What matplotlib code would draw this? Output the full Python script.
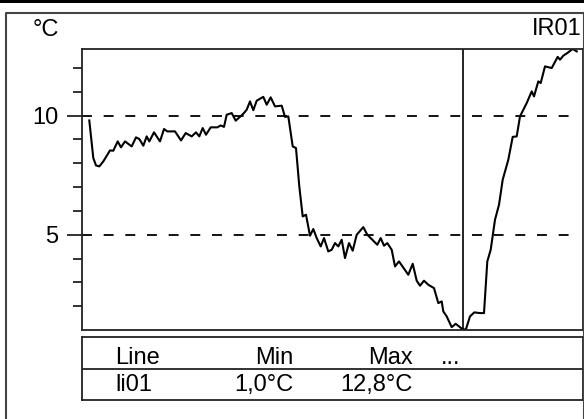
import matplotlib
matplotlib.use('Agg')
import matplotlib.pyplot as plt
from matplotlib.patches import Rectangle
from matplotlib.lines import Line2D
from matplotlib.ticker import FixedLocator

plt.rcParams['font.family'] = ['Liberation Sans', 'DejaVu Sans']

# --- Data ---
t = [7.3, 11.3, 14, 17.3, 21.3, 28, 31.3, 35.7, 39, 43, 49.7, 54, 57.3, 61.3,
     64.7, 67.3, 72, 78, 82, 85.3, 93, 99, 103.7, 109.7, 114, 117.3, 120.7,
     124, 128.7, 135.3, 138.7, 142, 144.7, 149.7, 153.7, 161.3, 164.7, 168,
     171.3, 174.7, 181.3, 184.7, 188.7, 193, 199.7, 203, 206.3, 210.7, 214,
     217.3, 220.7, 224, 228, 231.3, 234.7, 238.7, 242, 246.3, 249.7, 253,
     256.3, 259.7, 263, 267, 270.7, 274.7, 281.3, 285.3, 295.3, 298.7, 302,
     305.3, 309.7, 313, 317, 326.3, 330.7, 334.7, 338, 342, 346.3, 352,
     356.3, 359.7, 361.3, 364.7, 369.7, 373.7, 381.3, 384, 388, 392.3, 398,
     402, 405.3, 408.7, 413, 417, 420.7, 426.3, 430.7, 434.7, 438, 444.7,
     449.7, 452, 456.3, 458.7, 463, 469.7, 475.7, 478, 481.3, 485.3, 490.7,
     494.7]
temp = [9.80, 8.22, 7.91, 7.87, 8.08, 8.54, 8.53, 8.92, 8.67, 8.92, 8.71, 9.09,
        9.02, 8.74, 9.13, 8.92, 9.30, 8.92, 9.44, 9.34, 9.34, 8.96, 9.27, 9.13,
        9.30, 9.13, 9.48, 9.20, 9.51, 9.51, 9.59, 9.53, 10.04, 10.11, 9.79,
        10.08, 10.25, 10.60, 10.23, 10.63, 10.79, 10.46, 10.77, 10.39, 10.42,
        9.95, 9.97, 8.71, 8.64, 7.03, 5.77, 5.84, 4.96, 5.24, 4.86, 4.51, 4.86,
        4.30, 4.37, 4.65, 4.51, 4.79, 4.02, 4.65, 4.33, 5.00, 5.32, 5.00, 4.58,
        4.86, 4.54, 4.65, 4.37, 3.67, 3.88, 3.32, 3.78, 3.07, 2.86, 3.07, 2.90,
        2.76, 2.13, 2.20, 1.78, 1.57, 1.12, 1.26, 1.01, 1.04, 1.57, 1.74, 1.71,
        1.71, 3.88, 4.37, 5.63, 6.26, 7.31, 8.15, 9.11, 9.13, 9.97, 10.53,
        11.02, 10.81, 11.44, 11.37, 12.07, 12.00, 12.47, 12.35, 12.52, 12.63,
        12.80, 12.70]
cursor_t = 381.3
ref_levels = [5, 10]
y_min, y_max = 1.0, 12.8

table_header = ['Line', 'Min', 'Max', '...']
table_row = ['li01', '1,0°C', '12,8°C']

W, H = 584, 419
FS = 17
EDGE = '#222222'


def fx(px):
    return px / W


def fy(py):
    return 1 - py / H


fig = plt.figure(figsize=(W / 100, H / 100), dpi=100)

# top black bar + outer frame
fig.add_artist(Rectangle((0, fy(3)), 1, 3 / H, transform=fig.transFigure,
                         facecolor='black', edgecolor='none'))
fig.add_artist(Line2D([fx(6), fx(6), fx(583.5), fx(583.5)],
                      [fy(425), fy(13), fy(13), fy(425)],
                      transform=fig.transFigure, color='#444444', lw=1.5))

# --- main chart ---
ax = fig.add_axes([fx(82), fy(330), fx(583 - 82), (330 - 49) / H])
ax.plot(t, temp, color='black', lw=1.5)
for lv in ref_levels:
    ax.axhline(lv, xmin=0, xmax=0.985, color='black', lw=1.3,
               dashes=(5.5, 6.5))
ax.axvline(cursor_t, color='black', lw=1.2)
ax.set_xlim(0, 501)
ax.set_ylim(y_min, y_max)
ax.set_xticks([])
ax.set_yticks(ref_levels)
ax.yaxis.set_minor_locator(FixedLocator([2, 3, 4, 6, 7, 8, 9, 11, 12]))
ax.tick_params(axis='y', which='major', length=11, width=1.3, pad=6,
               labelsize=FS, color=EDGE)
ax.tick_params(axis='y', which='minor', length=6.5, width=1.3, color=EDGE)
for s in ax.spines.values():
    s.set_color(EDGE)
    s.set_linewidth(1.3)

fig.text(fx(33), fy(36), '°C', fontsize=FS, ha='left', va='baseline')
fig.text(fx(582), fy(35), 'IR01', fontsize=FS, ha='right', va='baseline')

# --- stats table ---
tax = fig.add_axes([fx(82), fy(400), fx(583 - 82), (400 - 337) / H])
tax.set_xlim(82, 583)
tax.set_ylim(400, 337)
tax.set_xticks([])
tax.set_yticks([])
for s in tax.spines.values():
    s.set_color(EDGE)
    s.set_linewidth(1.3)
tax.axhline(369, color=EDGE, lw=1.3)

header_x = [115, 293, 413, 441]
header_ha = ['left', 'right', 'right', 'left']
for txt, x, ha in zip(table_header, header_x, header_ha):
    tax.text(x, 364, txt, fontsize=FS, ha=ha, va='baseline')
for txt, x, ha in zip(table_row, header_x, header_ha):
    tax.text(x, 391, txt, fontsize=FS, ha=ha, va='baseline')

fig.savefig('out.png', dpi=100, facecolor='white')
